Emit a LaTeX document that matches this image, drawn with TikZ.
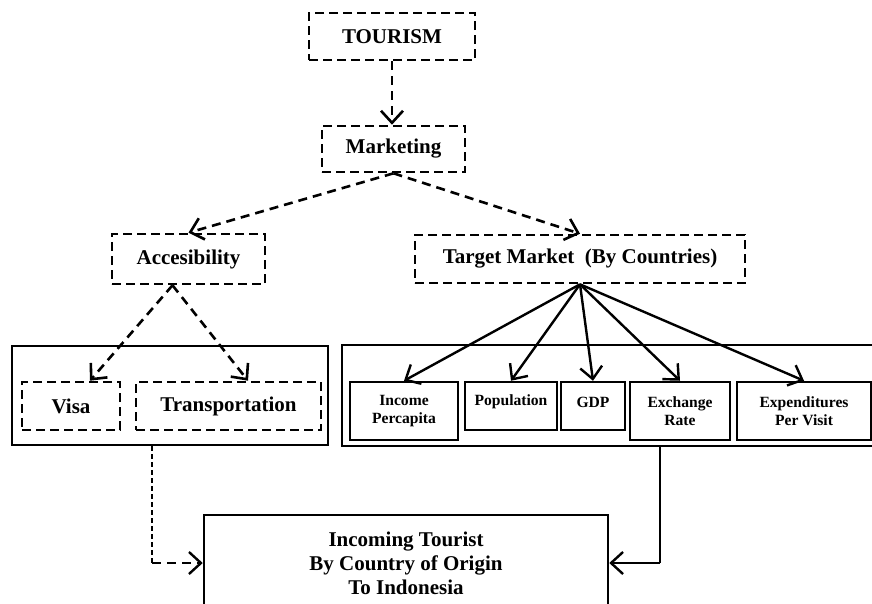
\documentclass[tikz,border=0pt]{standalone}
\usepackage{fontspec}
\setmainfont{Liberation Serif}
\usetikzlibrary{arrows.meta,calc}
\begin{document}
\begin{tikzpicture}[x=1pt,y=-1pt,
 bigfont/.style={font=\fontsize{21}{24}\selectfont\bfseries},
 smallfont/.style={font=\fontsize{15.6}{18}\selectfont\bfseries},
 dbox/.style={draw,line width=2.6pt,dash pattern=on 9pt off 5pt,inner sep=0pt,bigfont,align=center},
 sbox/.style={draw,line width=2.5pt,inner sep=0pt,smallfont,align=center},
 gbox/.style={draw,line width=2.1pt,inner sep=0pt},
 bigbox/.style={draw,line width=2.5pt,inner sep=0pt,bigfont,align=center},
 darr/.style={line width=2.6pt,dash pattern=on 9pt off 6pt,-{Straight Barb[length=12pt,width=22pt]}},
 sarr/.style={line width=2.4pt,-{Straight Barb[length=12pt,width=22pt]}},
 thinl/.style={line width=1.3pt},
]
\useasboundingbox (0,0) rectangle (872,603);

% group boxes
\node[gbox,minimum width=316,minimum height=99] (accgroup) at (170,395.5) {};
\node[gbox,minimum width=548,minimum height=101] (mkgroup) at (616,395.5) {};

% top boxes
\node[dbox,minimum width=166,minimum height=47] (tourism) at (392,36.5) {TOURISM};
\node[dbox,minimum width=143,minimum height=46] (marketing) at (393.5,149) {Marketing};
\node[dbox,minimum width=153,minimum height=50] (acc) at (188.5,259) {Accesibility};
\node[dbox,minimum width=330,minimum height=48] (target) at (580,259) {Target Market\ \ (By Countries)};

% left group
\node[dbox,minimum width=98,minimum height=48] (visa) at (71,406) {Visa};
\node[dbox,minimum width=185,minimum height=48] (trans) at (228.5,406) {Transportation};

% right group
\node[sbox,minimum width=108,minimum height=58] (income) at (404,411) {Income\\Percapita};
\node[sbox,minimum width=92,minimum height=48,label={[yshift=4pt,smallfont]center:Population}] (pop) at (511,406) {};
\node[sbox,minimum width=64,minimum height=48,label={[yshift=4pt,smallfont]center:GDP}] (gdp) at (593,406) {};
\node[sbox,minimum width=100,minimum height=58] (exch) at (680,411) {Exchange\\Rate};
\node[sbox,minimum width=134,minimum height=58] (expend) at (804,411) {Expenditures\\Per Visit};

% bottom box
\node[bigbox,minimum width=404,minimum height=96] (incoming) at (406,563) {Incoming Tourist\\By Country of Origin\\To Indonesia};

% connectors
\draw[darr] (tourism.south) -- (tourism.south |- marketing.north);
\draw[darr] (marketing.south) -- (acc.north);
\draw[darr] (marketing.south) -- (target.north);
\draw[darr] ($(acc.south)+(-16,0)$) -- ($(visa.north)+(19,0)$);
\draw[darr] ($(acc.south)+(-16,0)$) -- ($(trans.north)+(19.5,0)$);

\draw[sarr] (target.south) -- (income.north);
\draw[sarr] (target.south) -- (pop.north);
\draw[sarr] (target.south) -- (gdp.north);
\draw[sarr] (target.south) -- (exch.north);
\draw[sarr] (target.south) -- (expend.north);

\coordinate (ldrop) at (152,0);
\coordinate (rdrop) at (660,0);
\draw[thinl,dash pattern=on 5pt off 3pt] (ldrop |- accgroup.south) -- (ldrop |- incoming.west);
\draw[darr,line width=2.4pt,dash pattern=on 9pt off 6pt] (ldrop |- incoming.west) -- (incoming.west);
\draw[thinl] (rdrop |- mkgroup.south) -- (rdrop |- incoming.east);
\draw[sarr] (rdrop |- incoming.east) -- (incoming.east);
\end{tikzpicture}
\end{document}
